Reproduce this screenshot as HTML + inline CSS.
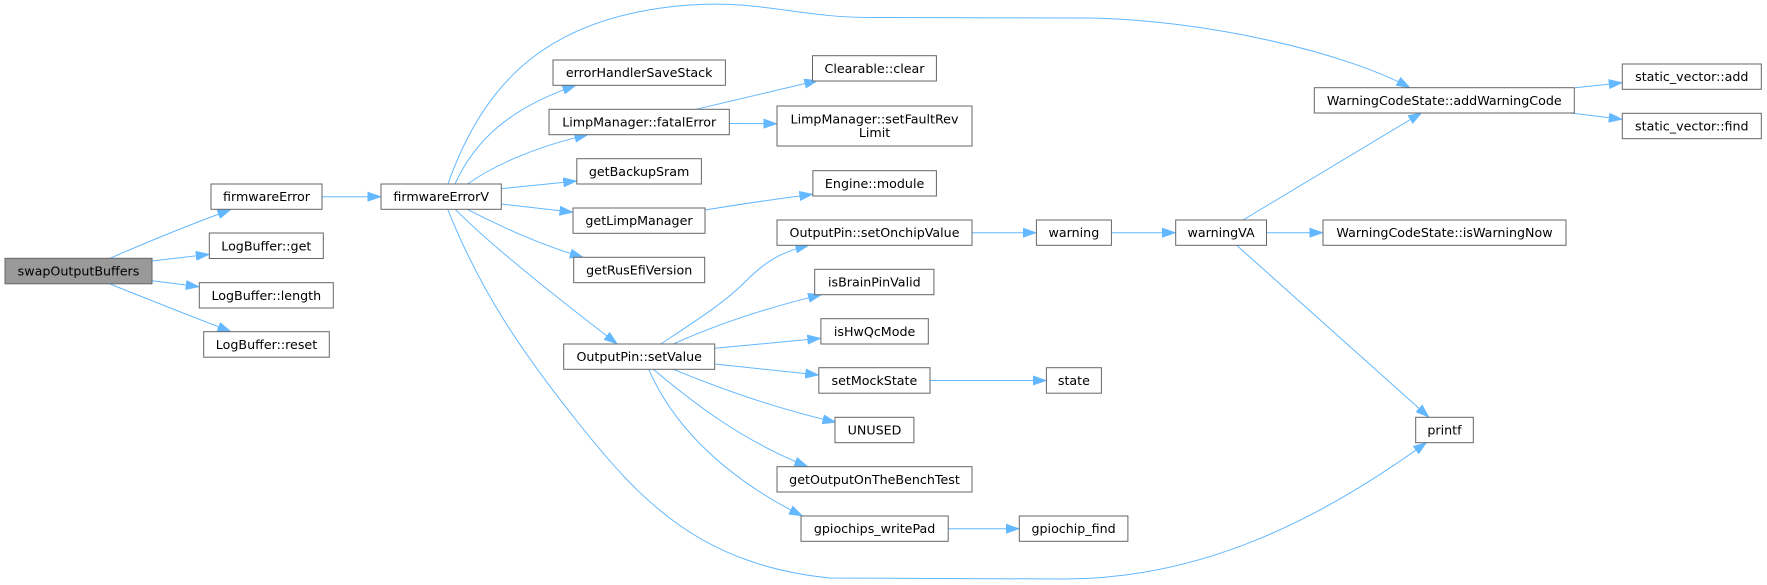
<!DOCTYPE html>
<html>
<head>
<meta charset="utf-8">
<style>
html,body{margin:0;padding:0;background:#fff;}
svg{display:block;}
text{font-family:"DejaVu Sans","Liberation Sans",sans-serif;font-size:12.67px;fill:#000;}
.n{fill:#fff;stroke:#666;stroke-width:1;}
.e{fill:none;stroke:#63b8ff;stroke-width:1;}
</style>
</head>
<body>
<svg width="1767" height="585" viewBox="0 0 1767 585" xmlns="http://www.w3.org/2000/svg">
<defs>
<marker id="a" markerUnits="userSpaceOnUse" markerWidth="14" markerHeight="10" viewBox="0 0 14 10" refX="13.5" refY="5" orient="auto">
<path d="M0,0.3 L13.5,5 L0,9.7 z" fill="#63b8ff" stroke="#63b8ff" stroke-width="0.6"/>
</marker>
</defs>

<!-- edges -->
<g class="edges">
<path class="e" marker-end="url(#a)" d="M110,258.3 Q170,232 231,209.5"/>
<path class="e" marker-end="url(#a)" d="M152,261 L209.3,254.3"/>
<path class="e" marker-end="url(#a)" d="M152,280.7 L199.3,286.7"/>
<path class="e" marker-end="url(#a)" d="M110,284 Q170,308 231,331.7"/>
<path class="e" marker-end="url(#a)" d="M322,196.7 L381,196.7"/>
<path class="e" marker-end="url(#a)" d="M455,184 C475,140 510,108 576,85.3"/>
<path class="e" marker-end="url(#a)" d="M467.5,184 C490,168 530,148 588,134.7"/>
<path class="e" marker-end="url(#a)" d="M501.3,188.7 L576.8,181"/>
<path class="e" marker-end="url(#a)" d="M501.3,204 L573,212.3"/>
<path class="e" marker-end="url(#a)" d="M467.3,209.3 C500,226 540,245 583.3,257.3"/>
<path class="e" marker-end="url(#a)" d="M455.3,209.3 C490,245 560,300 617.3,344"/>
<path class="e" marker-end="url(#a)" d="M447.7,209.3 C480,290 520,350 580,425 C640,500 700,565 830,578 L1060,579 C1200,580 1320,520 1426.7,442.3"/>
<path class="e" marker-end="url(#a)" d="M447.9,184 C485,80 550,15 690,5 C760,0 800,17.5 870,17.5 L1090,18 C1200,20 1340,50 1410,87.7"/>
<path class="e" marker-end="url(#a)" d="M696,109.3 L817.9,80.5"/>
<path class="e" marker-end="url(#a)" d="M729.3,123.5 L777,123.7"/>
<path class="e" marker-end="url(#a)" d="M705,210 Q760,201 812.9,194.3"/>
<path class="e" marker-end="url(#a)" d="M660.8,344 C700,318 725,302 745,282 C765,262 780,252 809,245.3"/>
<path class="e" marker-end="url(#a)" d="M673.3,344 Q740,314 821.6,294.7"/>
<path class="e" marker-end="url(#a)" d="M714.7,348.3 L820.9,338.3"/>
<path class="e" marker-end="url(#a)" d="M714.7,364 L818.8,375"/>
<path class="e" marker-end="url(#a)" d="M673.3,369.3 Q760,405 836,422.3"/>
<path class="e" marker-end="url(#a)" d="M653.3,369.3 C690,400 740,440 807.9,466.7"/>
<path class="e" marker-end="url(#a)" d="M648.7,369.3 C675,430 730,480 802.5,516"/>
<path class="e" marker-end="url(#a)" d="M972,232.7 L1036.4,232.7"/>
<path class="e" marker-end="url(#a)" d="M1111.4,232.7 L1175.7,232.7"/>
<path class="e" marker-end="url(#a)" d="M1243,220 L1421.7,112.7"/>
<path class="e" marker-end="url(#a)" d="M1266.5,232.7 L1323,232.7"/>
<path class="e" marker-end="url(#a)" d="M1236.7,245.3 L1429,417.3"/>
<path class="e" marker-end="url(#a)" d="M1575,87.7 L1622.3,82.7"/>
<path class="e" marker-end="url(#a)" d="M1568.3,112.7 L1622.3,119.3"/>
<path class="e" marker-end="url(#a)" d="M930,380.5 L1046.4,380.5"/>
<path class="e" marker-end="url(#a)" d="M948.2,528.7 L1019.3,528.7"/>
</g>

<!-- nodes -->
<g>
<rect x="5" y="258.3" width="147" height="25.5" fill="#999" stroke="#666" stroke-width="1"/>
<text x="78.5" y="275.5" text-anchor="middle">swapOutputBuffers</text>

<rect class="n" x="211" y="184" width="111" height="25.3"/>
<text x="266.5" y="201.2" text-anchor="middle">firmwareError</text>

<rect class="n" x="209.3" y="233" width="114" height="25.5"/>
<text x="266.3" y="250.3" text-anchor="middle">LogBuffer::get</text>

<rect class="n" x="199.3" y="282.7" width="134" height="25.3"/>
<text x="266.3" y="299.9" text-anchor="middle">LogBuffer::length</text>

<rect class="n" x="203.7" y="331.7" width="125.6" height="25.5"/>
<text x="266.5" y="349" text-anchor="middle">LogBuffer::reset</text>

<rect class="n" x="381" y="184" width="120.3" height="25.3"/>
<text x="441.2" y="201.2" text-anchor="middle">firmwareErrorV</text>

<rect class="n" x="553" y="60" width="172.4" height="25.3"/>
<text x="639.2" y="77.2" text-anchor="middle">errorHandlerSaveStack</text>

<rect class="n" x="549" y="109.3" width="180.3" height="25.4"/>
<text x="639.2" y="126.5" text-anchor="middle">LimpManager::fatalError</text>

<rect class="n" x="576.8" y="158.7" width="124.6" height="25.3"/>
<text x="639.1" y="175.9" text-anchor="middle">getBackupSram</text>

<rect class="n" x="573" y="208" width="132" height="25.3"/>
<text x="639" y="225.2" text-anchor="middle">getLimpManager</text>

<rect class="n" x="573.7" y="257.3" width="131" height="25.4"/>
<text x="639.2" y="274.5" text-anchor="middle">getRusEfiVersion</text>

<rect class="n" x="563.7" y="344" width="151" height="25.3"/>
<text x="639.2" y="361.2" text-anchor="middle">OutputPin::setValue</text>

<rect class="n" x="812.5" y="55.7" width="123.9" height="25.3"/>
<text x="874.5" y="72.9" text-anchor="middle">Clearable::clear</text>

<rect class="n" x="777" y="106" width="195" height="40"/>
<text x="874.5" y="123.5" text-anchor="middle">LimpManager::setFaultRev</text>
<text x="874.5" y="136.8" text-anchor="middle">Limit</text>

<rect class="n" x="812.9" y="170.7" width="123.5" height="25.3"/>
<text x="874.6" y="187.9" text-anchor="middle">Engine::module</text>

<rect class="n" x="777" y="220" width="195" height="25.3"/>
<text x="874.5" y="237.2" text-anchor="middle">OutputPin::setOnchipValue</text>

<rect class="n" x="814.7" y="269.3" width="119.2" height="25.4"/>
<text x="874.3" y="286.5" text-anchor="middle">isBrainPinValid</text>

<rect class="n" x="820.9" y="318.7" width="107.4" height="25.3"/>
<text x="874.6" y="335.9" text-anchor="middle">isHwQcMode</text>

<rect class="n" x="818.8" y="367.7" width="111.2" height="25.5"/>
<text x="874.4" y="385" text-anchor="middle">setMockState</text>

<rect class="n" x="835" y="417.3" width="78.9" height="25.4"/>
<text x="874.5" y="434.5" text-anchor="middle">UNUSED</text>

<rect class="n" x="777" y="466.7" width="195" height="25.3"/>
<text x="874.5" y="483.9" text-anchor="middle">getOutputOnTheBenchTest</text>

<rect class="n" x="801" y="516" width="147.2" height="25.3"/>
<text x="874.6" y="533.2" text-anchor="middle">gpiochips_writePad</text>

<rect class="n" x="1036.4" y="220" width="75" height="25.3"/>
<text x="1073.9" y="237.2" text-anchor="middle">warning</text>

<rect class="n" x="1046.4" y="367.7" width="55" height="25.5"/>
<text x="1073.9" y="385" text-anchor="middle">state</text>

<rect class="n" x="1019.3" y="516" width="108.6" height="25.3"/>
<text x="1073.6" y="533.2" text-anchor="middle">gpiochip_find</text>

<rect class="n" x="1175.7" y="220" width="90.8" height="25.3"/>
<text x="1221.1" y="237.2" text-anchor="middle">warningVA</text>

<rect class="n" x="1415.7" y="417.3" width="57.6" height="25.4"/>
<text x="1444.5" y="434.5" text-anchor="middle">printf</text>

<rect class="n" x="1314.3" y="87.7" width="260" height="25.3"/>
<text x="1444.3" y="104.9" text-anchor="middle">WarningCodeState::addWarningCode</text>

<rect class="n" x="1323" y="220" width="243" height="25.3"/>
<text x="1444.5" y="237.2" text-anchor="middle">WarningCodeState::isWarningNow</text>

<rect class="n" x="1622.3" y="64" width="139" height="25.3"/>
<text x="1691.8" y="81.2" text-anchor="middle">static_vector::add</text>

<rect class="n" x="1622.3" y="113.3" width="139" height="25.4"/>
<text x="1691.8" y="130.5" text-anchor="middle">static_vector::find</text>
</g>
</svg>
</body>
</html>
